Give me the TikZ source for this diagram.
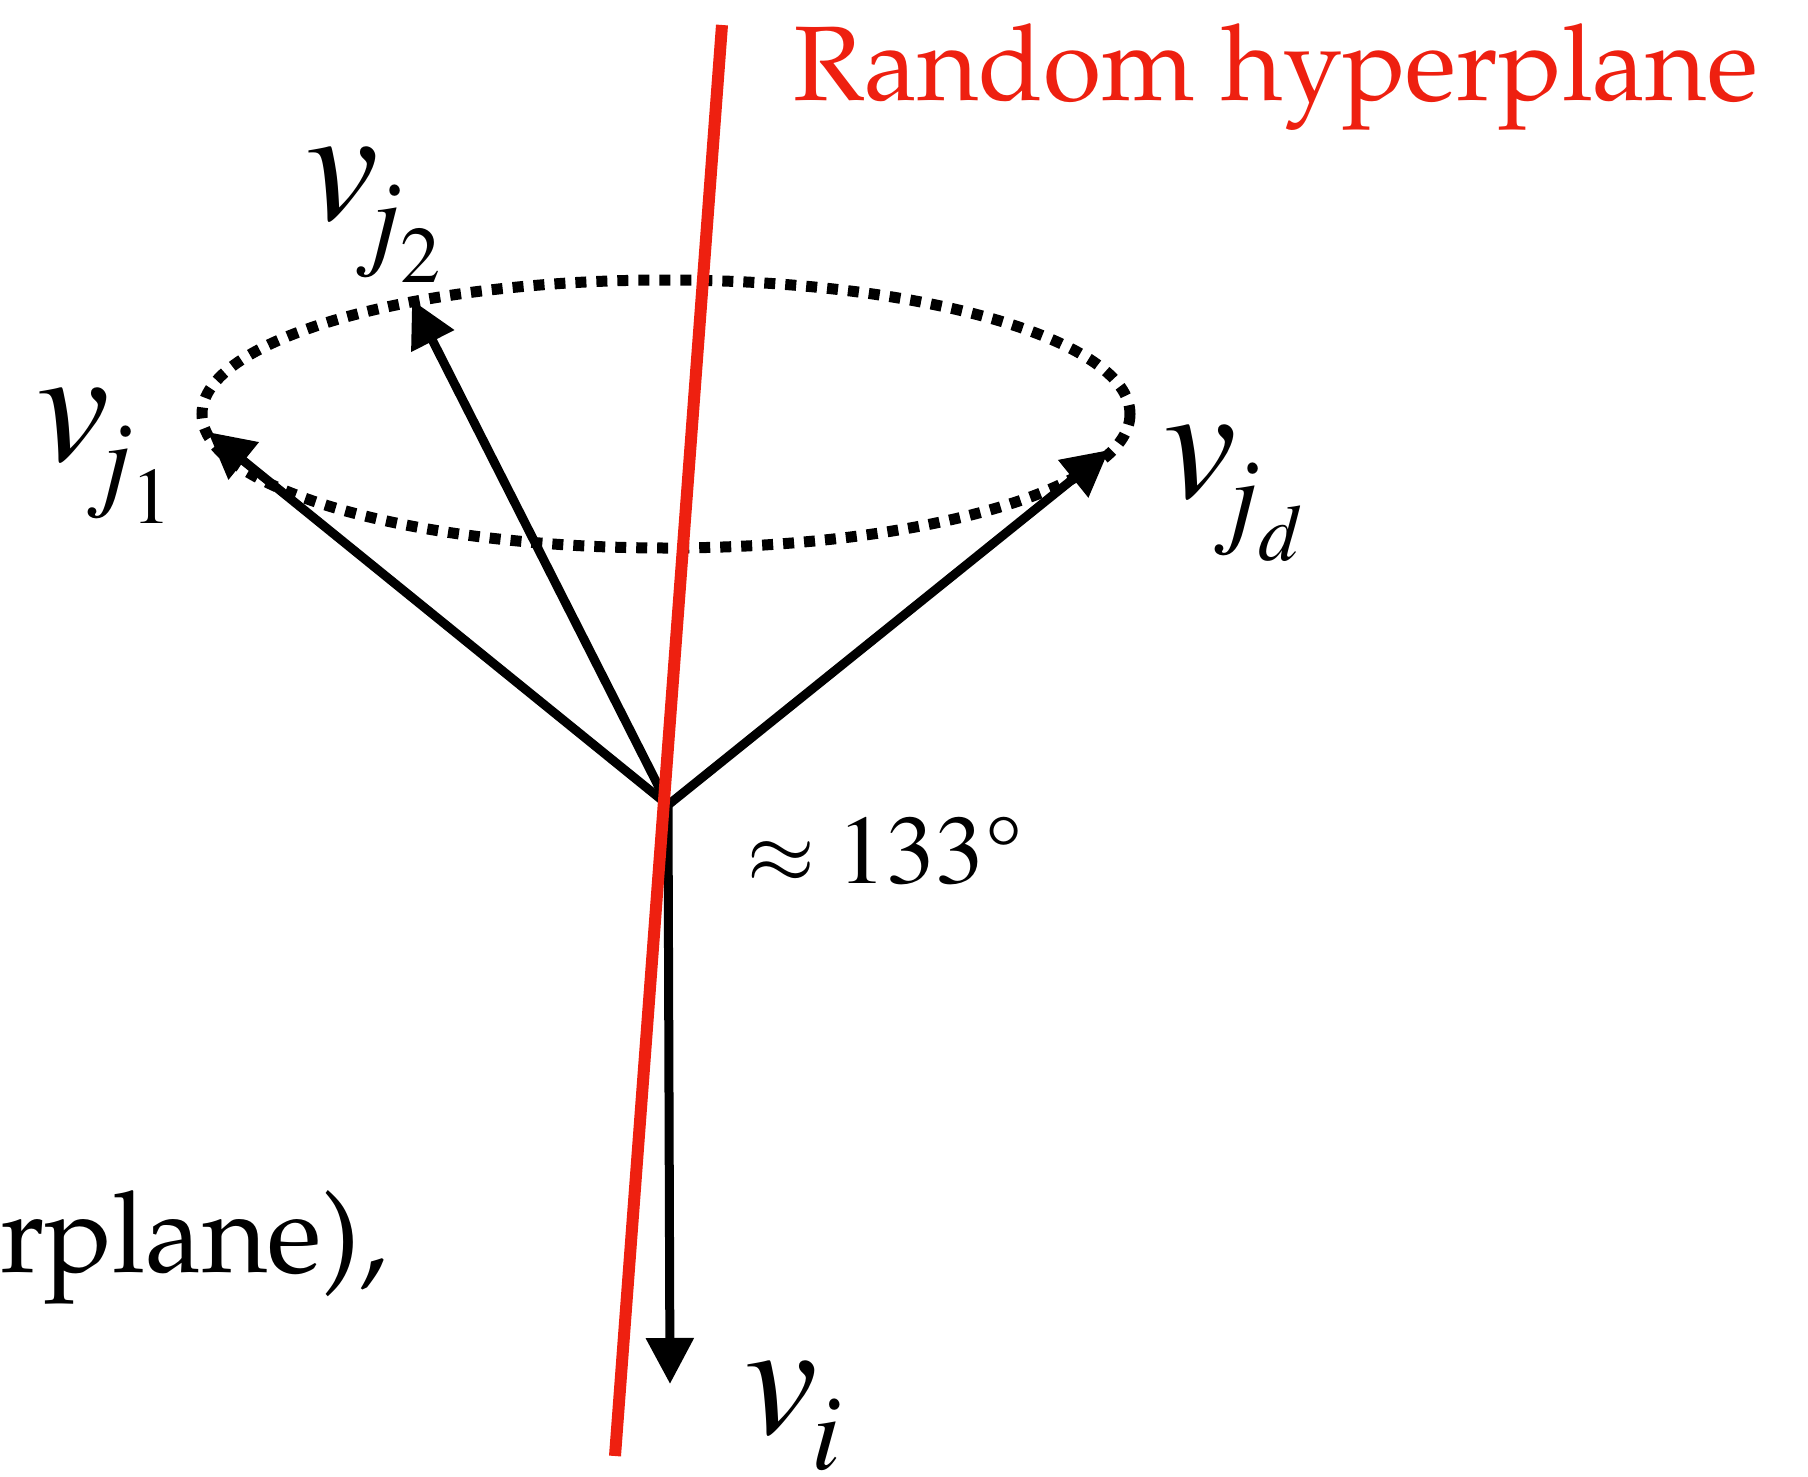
\documentclass[tikz,border=0pt]{standalone}
\usepackage[T1]{fontenc}
\usepackage{mathpazo}
\usepackage{graphicx}
\usetikzlibrary{arrows.meta}
\definecolor{hyperred}{RGB}{238,32,16}
\newcommand{\tmv}{\fontsize{165}{170}\fontfamily{ptm}\fontshape{it}\selectfont}
\newcommand{\tmj}{\fontsize{108}{110}\fontfamily{ptm}\fontshape{it}\selectfont}
\newcommand{\tmss}{\fontsize{80}{80}\fontfamily{ptm}\fontshape{n}\selectfont}
\newcommand{\vjlab}[1]{{\tmv v}\kern-8.5pt\lower36pt\hbox{\tmj j\lower27pt\hbox{\tmss #1}}}
\begin{document}
\begin{tikzpicture}[x=1pt,y=-1pt,
  vec/.style={line width=9pt,-{Triangle[length=46pt,width=46pt]}},
  dots/.style={line width=11pt,dash pattern=on 11pt off 10pt},
  plane/.style={line width=12pt,draw=hyperred},
  lbl/.style={inner sep=0pt,anchor=base west},
  txt/.style={inner sep=0pt,anchor=base west,font=\fontsize{97}{110}\selectfont}]
\useasboundingbox (0,0) rectangle (1808,1477);
\coordinate (O) at (668,805);
\coordinate (c) at (666,414);
\coordinate (t1) at (208,432);
\coordinate (t2) at (412,300);
\coordinate (td) at (1109,450);
\coordinate (ti) at (670,1384);
\coordinate (ptop) at (722,25);
\coordinate (pbot) at (615,1456);
% dotted circle of neighbours
\draw[dots] (c) ellipse [x radius=464, y radius=134];
% vectors
\draw[vec] (O) -- (t1);
\draw[vec] (O) -- (t2);
\draw[vec] (O) -- (td);
\draw[vec] (O) -- (ti);
% hyperplane
\draw[plane] (ptop) -- (pbot);
% labels
\node[txt,text=hyperred,font=\fontsize{106}{110}\selectfont] (rh) at (793,101) {Random hyperplane};
\node[lbl] (lj2) at (305.5,219) {\vjlab{2}};
\node[lbl] (lj1) at (36.5,460) {\vjlab{1}};
\node[lbl] (ljd) at (1163.5,497) {\vjlab{\itshape d}};
\node[lbl] (li) at (744.5,1433) {{\tmv v}\kern-6pt\lower36pt\hbox{\tmj i}};
\node[lbl,font=\fontsize{98}{100}\fontfamily{ptm}\selectfont] (ang) at (746,883) {\makebox[91pt][l]{\scalebox{0.85}{$\approx$}}133\textdegree};
\node[txt,font=\fontsize{113}{120}\selectfont] (rp) at (0,1272) {rplane),};
\end{tikzpicture}
\end{document}
